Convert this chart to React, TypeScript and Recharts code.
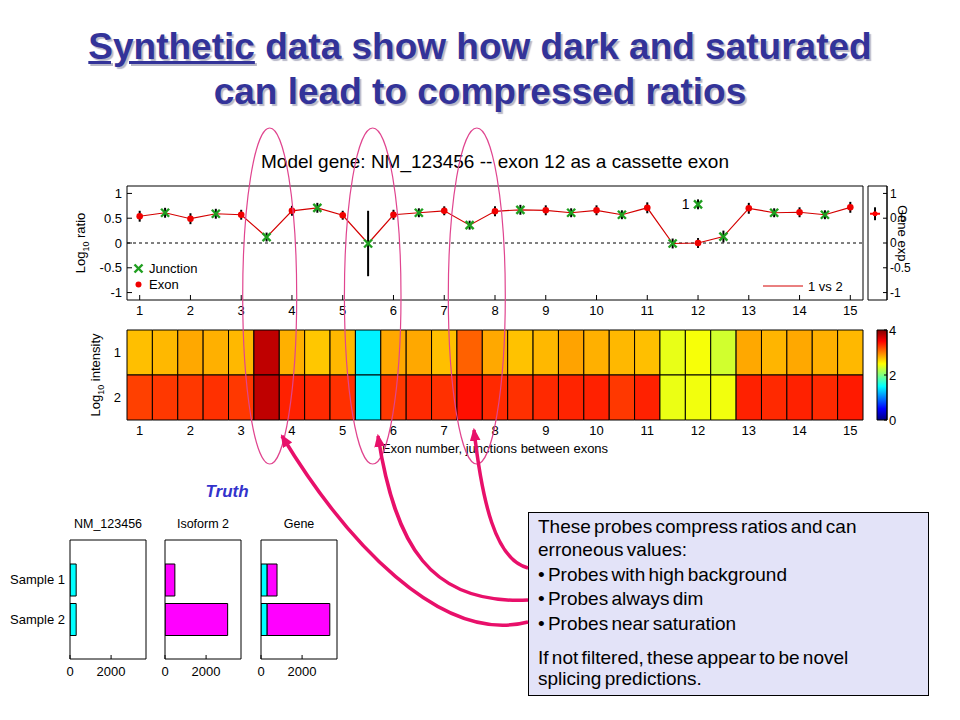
import React from 'react';
import {
  ComposedChart,
  BarChart,
  Bar,
  Line,
  Scatter,
  ErrorBar,
  XAxis,
  YAxis,
  ReferenceLine,
  ReferenceArea,
  LabelList,
} from 'recharts';

const FONT = '"Liberation Sans", Arial, Helvetica, sans-serif';

// log10 ratio (sample 1 vs 2) per exon
const exonPos = [1, 2, 3, 4, 5, 6, 7, 8, 9, 10, 11, 12, 13, 14, 15];
const exonRatio = [0.54, 0.49, 0.57, 0.65, 0.56, 0.57, 0.65, 0.64, 0.66, 0.66, 0.71, 0.0, 0.7, 0.62, 0.72];
const exonErr = [0.11, 0.11, 0.1, 0.1, 0.09, 0.1, 0.09, 0.1, 0.1, 0.1, 0.11, 0.1, 0.11, 0.1, 0.11];

// junctions between neighbouring exons
const junctionPos = [1.5, 2.5, 3.5, 4.5, 5.5, 6.5, 7.5, 8.5, 9.5, 10.5, 11.5, 12.5, 13.5, 14.5];
const junctionRatio = [0.61, 0.59, 0.12, 0.71, -0.01, 0.61, 0.36, 0.67, 0.61, 0.57, -0.01, 0.13, 0.61, 0.57];
const junctionErr = [0.1, 0.1, 0.09, 0.1, 0.66, 0.09, 0.09, 0.1, 0.09, 0.09, 0.1, 0.12, 0.09, 0.09];

// skip junction (11-13), drawn above exon 12
const skipPos = [12];
const skipRatio = [0.78];
const skipErr = [0.1];
const skipLabel = ['1'];

// gene level ratio
const geneRatio = [0.59];
const geneErr = [0.13];

const ratioTicks = [-1, -0.5, 0, 0.5, 1];

// log10 probe intensity, exons and junctions in order
const cellPos = [1, 1.5, 2, 2.5, 3, 3.5, 4, 4.5, 5, 5.5, 6, 6.5, 7, 7.5, 8, 8.5, 9, 9.5, 10, 10.5, 11, 11.5, 12, 12.5, 13, 13.5, 14, 14.5, 15];
const intensity1 = [2.75, 2.78, 2.84, 2.81, 2.78, 3.75, 2.81, 2.72, 2.78, 1.45, 2.84, 2.84, 2.75, 3.12, 2.84, 2.74, 2.78, 2.86, 2.81, 2.78, 2.75, 2.41, 2.47, 2.32, 2.84, 2.79, 2.84, 2.81, 2.78];
const intensity2 = [3.25, 3.28, 3.28, 3.31, 3.28, 3.75, 3.37, 3.34, 3.31, 1.45, 3.28, 3.34, 3.31, 3.44, 3.34, 3.31, 3.34, 3.36, 3.37, 3.28, 3.37, 2.42, 2.45, 2.45, 3.37, 3.34, 3.37, 3.34, 3.4];
const colorTicks = [0, 2, 4];

// truth panels
const samples = ['Sample 1', 'Sample 2'];
const nmExpr = [300, 300];
const iso2Expr = [480, 3050];
const truthTicks = [0, 2000];

const tickStyle = { fill: '#000', fontSize: 13 };

// matlab jet colormap over 0..4
function jet(v: number) {
  const t = Math.max(0, Math.min(1, v / 4));
  const c = (x: number) => Math.round(255 * Math.max(0, Math.min(1, x)));
  const r = c(Math.min(4 * t - 1.5, -4 * t + 4.5));
  const g = c(Math.min(4 * t - 0.5, -4 * t + 3.5));
  const b = c(Math.min(4 * t + 0.5, -4 * t + 2.5));
  return `rgb(${r},${g},${b})`;
}

const ExonDot = (p: any) => {
  if (p.cx == null) return null;
  return <circle cx={p.cx} cy={p.cy} r={3.3} fill="#f00000" />;
};

const JunctionX = (p: any) => {
  if (p.cx == null) return null;
  const s = 4;
  return (
    <g stroke="#1f9e1f" strokeWidth={2.4}>
      <line x1={p.cx - s} y1={p.cy - s} x2={p.cx + s} y2={p.cy + s} />
      <line x1={p.cx - s} y1={p.cy + s} x2={p.cx + s} y2={p.cy - s} />
    </g>
  );
};

const GeneMark = (p: any) => {
  if (p.cx == null) return null;
  return (
    <g>
      <line x1={p.cx - 5} x2={p.cx + 5} y1={p.cy} y2={p.cy} stroke="#f00" strokeWidth={2} />
      <circle cx={p.cx} cy={p.cy} r={2.5} fill="#f00" />
    </g>
  );
};

function RatioPanel() {
  const lineData: { x: number; y: number }[] = [];
  exonPos.forEach((x, i) => {
    lineData.push({ x, y: exonRatio[i] });
    if (i < junctionPos.length) lineData.push({ x: junctionPos[i], y: junctionRatio[i] });
  });
  const exons = exonPos.map((x, i) => ({ x, y: exonRatio[i], e: exonErr[i] }));
  const junctions = junctionPos.map((x, i) => ({ x, y: junctionRatio[i], e: junctionErr[i] }));
  const skips = skipPos.map((x, i) => ({ x, y: skipRatio[i], e: skipErr[i], label: skipLabel[i] }));

  return (
    <div style={{ position: 'absolute', left: 0, top: 176, width: 960, height: 150 }}>
      <ComposedChart width={960} height={150} data={lineData} margin={{ top: 0, right: 87, bottom: 4, left: 87 }}>
        <XAxis dataKey="x" type="number" domain={[0.75, 15.25]} ticks={exonPos} interval={0} allowDataOverflow
          height={22} tickSize={-5} tickMargin={11} stroke="#000" tick={tickStyle} />
        <XAxis xAxisId="top" orientation="top" dataKey="x" type="number" domain={[0.75, 15.25]} ticks={exonPos}
          interval={0} allowDataOverflow height={10} tickSize={-5} tick={false} stroke="#000" />
        <YAxis type="number" domain={[-1.15, 1.15]} ticks={ratioTicks} interval={0} allowDataOverflow width={40}
          tickSize={-5} tickMargin={10} stroke="#000" tick={tickStyle} />
        <YAxis yAxisId="right" orientation="right" type="number" domain={[-1.15, 1.15]} ticks={ratioTicks}
          interval={0} allowDataOverflow width={10} tickSize={-5} tick={false} stroke="#000" />
        <ReferenceLine y={0} stroke="#000" strokeDasharray="3 3" />
        <Line dataKey="y" stroke="#d40000" strokeWidth={1.2} dot={false} isAnimationActive={false} />
        <Scatter data={exons} dataKey="y" shape={ExonDot} isAnimationActive={false}>
          <ErrorBar dataKey="e" direction="y" width={0} stroke="#000" strokeWidth={2} isAnimationActive={false} />
        </Scatter>
        <Scatter data={junctions} dataKey="y" shape={JunctionX} isAnimationActive={false}>
          <ErrorBar dataKey="e" direction="y" width={0} stroke="#000" strokeWidth={2} isAnimationActive={false} />
        </Scatter>
        <Scatter data={skips} dataKey="y" shape={JunctionX} isAnimationActive={false}>
          <ErrorBar dataKey="e" direction="y" width={0} stroke="#000" strokeWidth={2} isAnimationActive={false} />
          <LabelList dataKey="label" position="left" offset={4} fill="#000" fontSize={14} />
        </Scatter>
      </ComposedChart>
    </div>
  );
}

function GenePanel() {
  const data = geneRatio.map((y, i) => ({ x: 0.37, y, e: geneErr[i] }));
  return (
    <div style={{ position: 'absolute', left: 860, top: 176, width: 70, height: 150 }}>
      <ComposedChart width={70} height={150} data={data} margin={{ top: 10, right: 13, bottom: 26, left: 8 }}>
        <XAxis dataKey="x" type="number" domain={[0, 1]} hide />
        <YAxis orientation="right" type="number" domain={[-1.15, 1.15]} ticks={ratioTicks} interval={0}
          allowDataOverflow width={30} tickSize={-4} tickMargin={7} stroke="#000" tick={{ fill: '#000', fontSize: 12 }} />
        <ReferenceArea x1={0} x2={1} y1={-1.15} y2={1.15} fill="none" stroke="#000" ifOverflow="visible" />
        <Scatter dataKey="y" shape={GeneMark} isAnimationActive={false}>
          <ErrorBar dataKey="e" direction="y" width={0} stroke="#000" strokeWidth={2} isAnimationActive={false} />
        </Scatter>
      </ComposedChart>
    </div>
  );
}

function IntensityPanel() {
  const cells: { x: number; row: number; v: number }[] = [];
  cellPos.forEach((x, i) => {
    cells.push({ x, row: 1, v: intensity1[i] });
    cells.push({ x, row: 2, v: intensity2[i] });
  });
  return (
    <div style={{ position: 'absolute', left: 0, top: 320, width: 960, height: 140 }}>
      <ComposedChart width={960} height={140} data={cells} margin={{ top: 10, right: 97, bottom: 4, left: 87 }}>
        <XAxis dataKey="x" type="number" domain={[0.75, 15.25]} ticks={exonPos} interval={0} height={36}
          tickSize={0} tickMargin={6} axisLine={false} tickLine={false} tick={tickStyle}
          label={{ value: 'Exon number, junctions between exons', position: 'insideBottom', offset: 3, fill: '#000', fontSize: 13 }} />
        <YAxis dataKey="row" type="number" domain={[0.5, 2.5]} reversed ticks={[1, 2]} interval={0} width={40}
          tickSize={0} tickMargin={6} axisLine={false} tickLine={false} tick={tickStyle} />
        {cells.map((c, i) => (
          <ReferenceArea key={i} x1={c.x - 0.25} x2={c.x + 0.25} y1={c.row - 0.5} y2={c.row + 0.5}
            fill={jet(c.v)} fillOpacity={1} stroke="#000" strokeWidth={1} ifOverflow="visible" />
        ))}
      </ComposedChart>
    </div>
  );
}

function ColorBar() {
  const data = colorTicks.map((v) => ({ x: 0.5, v }));
  return (
    <div style={{ position: 'absolute', left: 860, top: 320, width: 60, height: 110 }}>
      <ComposedChart width={60} height={110} data={data} margin={{ top: 10, right: 3, bottom: 10, left: 17 }}>
        <XAxis dataKey="x" type="number" domain={[0, 1]} hide />
        <YAxis dataKey="v" orientation="right" type="number" domain={[0, 4]} ticks={colorTicks} interval={0}
          width={30} tickSize={-3} tickMargin={5} stroke="#000" tick={tickStyle} />
        <ReferenceArea x1={0} x2={1} y1={0} y2={4} fill="url(#jetBar)" fillOpacity={1} stroke="#000" ifOverflow="visible" />
      </ComposedChart>
    </div>
  );
}

function TruthPanel({ left, title, keys, labels }: { left: number; title: string; keys: string[]; labels: boolean }) {
  const rows = samples.map((name, i) => ({ name, nm: nmExpr[i], iso: iso2Expr[i] }));
  const fills: Record<string, string> = { nm: '#00ffff', iso: '#ff00ff' };
  return (
    <div style={{ position: 'absolute', left, top: 510, width: 160, height: 175 }}>
      <div style={{ position: 'absolute', left: 50, width: 116, top: 7, lineHeight: '15px', textAlign: 'center', fontSize: 12.5 }}>
        {title}
      </div>
      <BarChart width={160} height={175} data={rows} layout="vertical" margin={{ top: 28, right: 12, bottom: 2, left: 4 }}>
        <XAxis type="number" domain={[0, 3700]} ticks={truthTicks} interval={0} allowDataOverflow height={24}
          tickSize={-4} tickMargin={12} stroke="#000" tick={tickStyle} />
        <XAxis xAxisId="top" orientation="top" type="number" domain={[0, 3700]} ticks={truthTicks} interval={0}
          allowDataOverflow height={2} tickSize={-4} tick={false} stroke="#000" />
        <YAxis type="category" dataKey="name" width={66} padding={{ top: 20, bottom: 20 }} tickSize={0}
          tickMargin={5} stroke="#000" tick={labels ? tickStyle : false} />
        <YAxis yAxisId="right" orientation="right" type="category" dataKey="name" width={2}
          padding={{ top: 20, bottom: 20 }} tickSize={-4} tick={false} stroke="#000" />
        {keys.map((k) => (
          <Bar key={k} dataKey={k} stackId="s" fill={fills[k]} stroke="#000" strokeWidth={1} barSize={32}
            isAnimationActive={false} />
        ))}
      </BarChart>
    </div>
  );
}

function Overlay() {
  const pink = '#e0458f';
  const arrow = '#e8106a';
  return (
    <svg width={960} height={720} style={{ position: 'absolute', left: 0, top: 0, pointerEvents: 'none' }}>
      <defs>
        <marker id="head" viewBox="0 0 12 10" refX="10" refY="5" markerWidth="13" markerHeight="11"
          markerUnits="userSpaceOnUse" orient="auto">
          <path d="M0,0 L12,5 L0,10 z" fill={arrow} />
        </marker>
      </defs>

      {/* axis titles */}
      <text x={85} y={243} transform="rotate(-90 85 243)" textAnchor="middle" fontSize={13} fill="#000">
        Log<tspan fontSize={9} dy={4}>10</tspan><tspan dy={-4}> ratio</tspan>
      </text>
      <text x={100} y={375} transform="rotate(-90 100 375)" textAnchor="middle" fontSize={13} fill="#000">
        Log<tspan fontSize={9} dy={4}>10</tspan><tspan dy={-4}> intensity</tspan>
      </text>
      <text x={898} y={205} transform="rotate(90 898 205)" fontSize={13} fill="#000">Gene exp</text>

      {/* legends */}
      <JunctionX cx={138.5} cy={268.5} />
      <text x={149} y={273} fontSize={13} fill="#000">Junction</text>
      <circle cx={138.5} cy={284.5} r={3} fill="#f00000" />
      <text x={149} y={289} fontSize={13} fill="#000">Exon</text>
      <line x1={763} x2={803} y1={286} y2={286} stroke="#d40000" strokeWidth={1} />
      <text x={808} y={290.5} fontSize={13} fill="#000">1 vs 2</text>

      {/* highlighted probes */}
      <ellipse cx={269.7} cy={296} rx={27} ry={168} fill="none" stroke={pink} strokeWidth={1.2} />
      <ellipse cx={372.7} cy={296} rx={28.3} ry={168} fill="none" stroke={pink} strokeWidth={1.2} />
      <ellipse cx={476.8} cy={296} rx={28.5} ry={168} fill="none" stroke={pink} strokeWidth={1.2} />

      <path d="M528,622 C440,645 345,540 282,436" fill="none" stroke={arrow} strokeWidth={3.5} markerEnd="url(#head)" />
      <path d="M528,600 C430,605 395,545 378,436" fill="none" stroke={arrow} strokeWidth={3.5} markerEnd="url(#head)" />
      <path d="M528,568 C495,560 482,500 474,430" fill="none" stroke={arrow} strokeWidth={3.5} markerEnd="url(#head)" />
    </svg>
  );
}

const noteLines = [
  { text: 'These probes compress ratios and can', y: 527 },
  { text: 'erroneous values:', y: 550 },
  { text: '\u2022 Probes with high background', y: 575 },
  { text: '\u2022 Probes always dim', y: 599 },
  { text: '\u2022 Probes near saturation', y: 624 },
  { text: 'If not filtered, these appear to be novel', y: 658 },
  { text: 'splicing predictions.', y: 679 },
];

export default function App() {
  const stops = [0, 0.125, 0.375, 0.625, 0.875, 1];
  return (
    <div style={{ position: 'absolute', left: 0, top: 0, width: 960, height: 720, background: '#fff', fontFamily: FONT, overflow: 'hidden' }}>
      <svg width={0} height={0} style={{ position: 'absolute' }}>
        <defs>
          <linearGradient id="jetBar" x1="0" y1="1" x2="0" y2="0">
            {stops.map((s) => (
              <stop key={s} offset={s} stopColor={jet(s * 4)} />
            ))}
          </linearGradient>
        </defs>
      </svg>

      <div style={{ position: 'absolute', left: 0, top: 24, width: 960, textAlign: 'center', fontSize: 37, lineHeight: '45px',
        fontWeight: 'bold', color: '#333399', textShadow: '2px 2px 1px #b8b8c8' }}>
        <span style={{ textDecoration: 'underline' }}>Synthetic</span> data show how dark and saturated
        <br />
        can lead to compressed ratios
      </div>

      <div style={{ position: 'absolute', left: 245, width: 500, top: 151, lineHeight: '22px', textAlign: 'center', fontSize: 19 }}>
        Model gene: NM_123456 -- exon 12 as a cassette exon
      </div>

      <RatioPanel />
      <GenePanel />
      <IntensityPanel />
      <ColorBar />

      <div style={{ position: 'absolute', left: 177, width: 100, top: 482, lineHeight: '20px', textAlign: 'center', fontSize: 17,
        fontWeight: 'bold', fontStyle: 'italic', color: '#3333cc' }}>
        Truth
      </div>
      <TruthPanel left={0} title="NM_123456" keys={['nm']} labels={true} />
      <TruthPanel left={95} title="Isoform 2" keys={['iso']} labels={false} />
      <TruthPanel left={191} title="Gene" keys={['nm', 'iso']} labels={false} />

      <div style={{ position: 'absolute', left: 528, top: 512, width: 401, height: 184, boxSizing: 'border-box',
        background: '#e3e3f8', border: '1px solid #000' }}>
        {noteLines.map((l) => (
          <div key={l.text} style={{ position: 'absolute', left: 9, top: l.y - 512 - 12, lineHeight: '22px', fontSize: 19,
            wordSpacing: -2, whiteSpace: 'nowrap', color: '#000' }}>
            {l.text}
          </div>
        ))}
      </div>

      <Overlay />
    </div>
  );
}
